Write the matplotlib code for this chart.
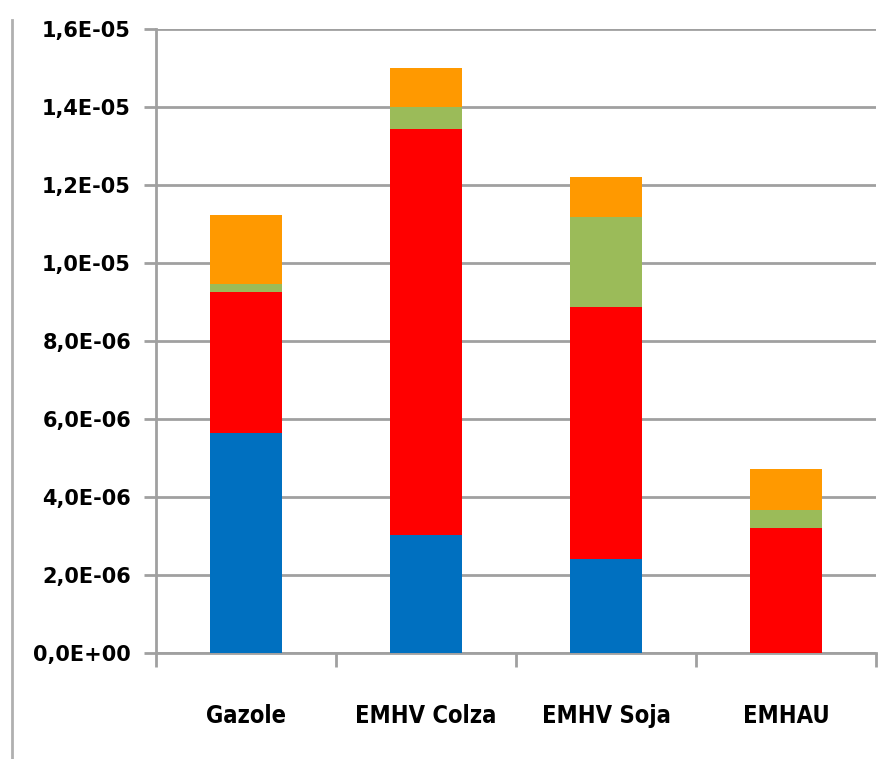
import matplotlib.pyplot as plt
from matplotlib.lines import Line2D
from matplotlib.ticker import FuncFormatter

categories = ['Gazole', 'EMHV Colza', 'EMHV Soja', 'EMHAU']
blue = [5.64e-6, 3.03e-6, 2.41e-6, 0.0]
red = [3.62e-6, 10.41e-6, 6.46e-6, 3.21e-6]
green = [0.20e-6, 0.56e-6, 2.31e-6, 0.46e-6]
orange = [1.77e-6, 1.00e-6, 1.03e-6, 1.05e-6]
yticks = [i * 2e-6 for i in range(9)]

colors = ['#0070C0', '#FF0000', '#9BBB59', '#FF9900']
series = [blue, red, green, orange]

fig = plt.figure(figsize=(8.92, 7.59), dpi=100)
ax = fig.add_axes([156 / 892, 1 - 653 / 759, (876 - 156) / 892, (653 - 29) / 759])

x = list(range(len(categories)))
bottom = [0.0] * len(categories)
for vals, c in zip(series, colors):
    ax.bar(x, vals, width=0.4, bottom=bottom, color=c, zorder=3)
    bottom = [b + v for b, v in zip(bottom, vals)]

ax.set_xlim(-0.5, 3.5)
ax.set_ylim(0, 1.6e-5)
ax.set_yticks(yticks)
ax.yaxis.set_major_formatter(FuncFormatter(lambda v, p: ('%.1E' % v).replace('.', ',')))
ax.grid(axis='y', color='#A0A0A0', linewidth=2, zorder=0)

# category labels between boundary ticks
ax.set_xticks([-0.5, 0.5, 1.5, 2.5, 3.5])
ax.set_xticklabels([])
ax.set_xticks(x, minor=True)
ax.set_xticklabels(categories, minor=True, fontsize=17, fontweight='bold',
                   fontstretch='condensed', family='DejaVu Sans')
ax.tick_params(axis='x', which='minor', length=0, pad=37)
ax.tick_params(axis='x', which='major', length=10, width=2, color='#A0A0A0')
ax.tick_params(axis='y', length=9, width=2, color='#A0A0A0', pad=9)
for lab in ax.get_yticklabels():
    lab.set_fontsize(15)
    lab.set_fontweight('bold')

for s in ['top', 'right']:
    ax.spines[s].set_visible(False)
for s in ['left', 'bottom']:
    ax.spines[s].set_color('#A0A0A0')
    ax.spines[s].set_linewidth(2)

# frame line at left edge of the image
fig.add_artist(Line2D([12 / 892, 12 / 892], [0, 1 - 20 / 759], color='#B0B0B0', linewidth=2))

fig.savefig('out.png', dpi=100)
